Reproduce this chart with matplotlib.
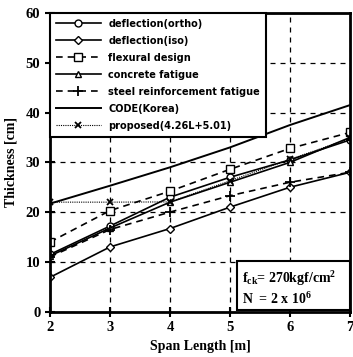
import matplotlib
matplotlib.use("Agg")
import matplotlib.pyplot as plt
from matplotlib.patches import Rectangle

span = [2, 3, 4, 5, 6, 7]

defl_ortho = [11.5, 17.2, 23.0, 27.0, 30.5, 34.5]
defl_iso = [6.9, 13.0, 16.7, 21.0, 25.0, 28.0]
flexural = [14.0, 20.3, 24.2, 28.6, 32.8, 36.0]
conc_fatigue = [11.2, 16.8, 22.0, 26.0, 30.0, 35.0]
steel_fatigue = [11.0, 16.5, 20.0, 23.3, 26.0, 28.0]
code_korea = [21.7, 25.3, 29.0, 33.0, 37.5, 41.5]
proposed = [22.0, 22.0, 22.05, 26.3, 30.6, 34.8]

serif = "Liberation Serif"
plt.rcParams["mathtext.fontset"] = "custom"
plt.rcParams["mathtext.rm"] = "Liberation Serif:bold"
plt.rcParams["mathtext.it"] = "Liberation Serif:bold"
plt.rcParams["mathtext.default"] = "rm"

fig = plt.figure(figsize=(3.53, 3.57), dpi=100)
ax = fig.add_axes([0.1416, 0.127, 0.85, 0.8366])

ax.plot(span, defl_ortho, color="black", lw=1.2, marker="o", ms=5, mfc="white", mec="black", label="deflection(ortho)")
ax.plot(span, defl_iso, color="black", lw=1.2, marker="D", ms=4, mfc="white", mec="black", label="deflection(iso)")
ax.plot(span, flexural, color="black", lw=1.2, ls=(0, (4, 3)), marker="s", ms=5.5, mfc="white", mec="black", label="flexural design")
ax.plot(span, conc_fatigue, color="black", lw=1.2, marker="^", ms=5, mfc="white", mec="black", label="concrete fatigue")
ax.plot(span, steel_fatigue, color="black", lw=1.2, ls=(0, (4, 3)), marker="+", ms=7, mew=1.3, label="steel reinforcement fatigue")
ax.plot(span, code_korea, color="black", lw=1.4, label="CODE(Korea)")
ax.plot(span, proposed, color="black", lw=0.8, ls=(0, (1, 1)), marker="x", ms=5, mew=1.3, label="proposed(4.26L+5.01)")

ax.set_xlim(2, 7)
ax.set_ylim(0, 60)
ax.set_xticks(span)
ax.set_yticks(range(0, 61, 10))
ax.grid(True, color="black", ls=(0, (4, 4)), lw=0.9)
ax.tick_params(direction="inout", length=7, width=1.5)
for lab in ax.get_xticklabels() + ax.get_yticklabels():
    lab.set_fontfamily(serif)
    lab.set_fontweight("bold")
    lab.set_fontsize(10.5)
for s in ax.spines.values():
    s.set_linewidth(2)

ax.set_xlabel("Span Length [m]", fontfamily=serif, fontweight="bold", fontsize=10, labelpad=4)
ax.set_ylabel("Thickness [cm]", fontfamily=serif, fontweight="bold", fontsize=10, labelpad=6)

leg = ax.legend(loc="upper left", bbox_to_anchor=(0, 1), borderaxespad=0, fancybox=False,
                framealpha=1, edgecolor="black", handlelength=4.6, labelspacing=0.72,
                borderpad=0.6, prop={"family": "DejaVu Sans", "weight": "bold", "size": 7})
leg.get_frame().set_linewidth(1.5)

# parameter box, bottom right
ax.add_patch(Rectangle((5.12, 0.3), 1.88, 9.8, transform=ax.transData, fc="white",
                       ec="black", lw=1.5, zorder=5))
ax.text(5.2, 6.6, "f$_{ck}$= 270kgf/cm$^{2}$", fontfamily=serif, fontweight="bold",
        fontsize=10, va="center", ha="left", zorder=6)
ax.text(5.2, 2.6, "N  = 2 x 10$^{6}$", fontfamily=serif, fontweight="bold",
        fontsize=10, va="center", ha="left", zorder=6)

fig.savefig("out.png", dpi=100)
